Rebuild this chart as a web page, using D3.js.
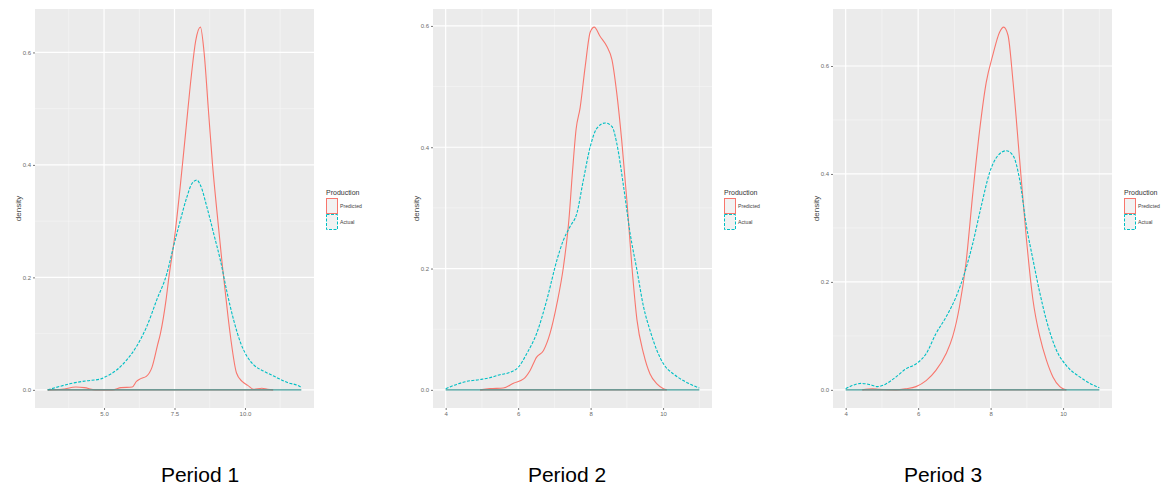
<!DOCTYPE html>
<html>
<head>
<meta charset="utf-8">
<script src="https://cdn.jsdelivr.net/npm/d3@7"></script>
<style>
  body { margin: 0; background: #ffffff; }
  svg { display: block; font-family: "Liberation Sans", Arial, sans-serif; }
</style>
</head>
<body>
<svg id="chart" width="1168" height="492"></svg>
<script>
// period titles and legend
var periods = ["Period 1", "Period 2", "Period 3"];
var seriesNames = ["Predicted", "Actual"];
var seriesColors = ["#F8766D", "#00BFC4"];

// x tick values per panel
var xTicks1 = [5.0, 7.5, 10.0];
var xTicks2 = [4, 6, 8, 10];
var xTicks3 = [4, 6, 8, 10];
var yTicks = [0.0, 0.2, 0.4, 0.6];

// Period 1 - predicted density
var p1PredX = [3.0, 3.5, 4.0, 4.3, 4.7, 5.3, 5.6, 6.0, 6.15, 6.3, 6.5, 6.7, 6.9, 7.0, 7.2, 7.3, 7.5, 7.7, 7.9, 8.1, 8.25, 8.42, 8.55, 8.7, 8.85, 9.0, 9.2, 9.4, 9.5, 9.7, 9.9, 10.1, 10.3, 10.6, 10.8, 11.0];
var p1PredY = [0.0, 0.001, 0.005, 0.004, 0.0, 0.0, 0.004, 0.005, 0.015, 0.02, 0.024, 0.04, 0.08, 0.10, 0.16, 0.20, 0.27, 0.36, 0.46, 0.56, 0.62, 0.645, 0.60, 0.50, 0.40, 0.32, 0.22, 0.13, 0.09, 0.03, 0.015, 0.008, 0.001, 0.003, 0.001, 0.0];
// Period 1 - actual density
var p1ActX = [3.0, 3.42, 3.89, 4.37, 4.85, 5.08, 5.44, 5.8, 6.15, 6.51, 6.87, 7.23, 7.46, 7.7, 7.94, 8.12, 8.29, 8.42, 8.65, 8.89, 9.13, 9.37, 9.6, 9.85, 10.08, 10.32, 10.68, 11.04, 11.51, 11.95, 12.0];
var p1ActY = [0.0, 0.006, 0.012, 0.016, 0.019, 0.024, 0.035, 0.053, 0.077, 0.112, 0.16, 0.207, 0.254, 0.30, 0.343, 0.367, 0.373, 0.364, 0.325, 0.278, 0.23, 0.172, 0.124, 0.083, 0.059, 0.044, 0.033, 0.024, 0.013, 0.006, 0.004];

// Period 2 - predicted density
var p2PredX = [4.95, 5.22, 5.59, 5.87, 6.15, 6.33, 6.51, 6.7, 6.88, 7.07, 7.25, 7.4, 7.5, 7.6, 7.71, 7.85, 7.99, 8.1, 8.26, 8.45, 8.59, 8.72, 8.86, 9.0, 9.14, 9.28, 9.46, 9.64, 9.83, 10.01, 10.1];
var p2PredY = [0.0, 0.002, 0.003, 0.011, 0.018, 0.032, 0.054, 0.065, 0.093, 0.142, 0.203, 0.28, 0.36, 0.43, 0.465, 0.533, 0.59, 0.598, 0.583, 0.566, 0.544, 0.49, 0.41, 0.313, 0.203, 0.115, 0.06, 0.026, 0.01, 0.002, 0.0];
// Period 2 - actual density
var p2ActX = [4.0, 4.3, 4.58, 4.95, 5.22, 5.5, 5.78, 6.0, 6.24, 6.51, 6.79, 7.07, 7.25, 7.43, 7.62, 7.8, 7.99, 8.17, 8.4, 8.59, 8.72, 8.91, 9.09, 9.28, 9.46, 9.64, 9.83, 10.01, 10.29, 10.57, 10.84, 11.0];
var p2ActY = [0.002, 0.009, 0.014, 0.017, 0.02, 0.025, 0.029, 0.037, 0.06, 0.093, 0.148, 0.214, 0.247, 0.269, 0.291, 0.346, 0.401, 0.431, 0.44, 0.434, 0.407, 0.335, 0.258, 0.197, 0.137, 0.098, 0.065, 0.043, 0.026, 0.015, 0.007, 0.003];

// Period 3 - predicted density
var p3PredX = [4.46, 4.74, 4.92, 5.39, 5.66, 5.94, 6.22, 6.49, 6.77, 6.95, 7.14, 7.32, 7.51, 7.69, 7.88, 8.06, 8.25, 8.36, 8.48, 8.62, 8.8, 8.99, 9.17, 9.36, 9.54, 9.72, 9.91, 10.0, 10.09];
var p3PredY = [0.0, 0.002, 0.001, 0.0, 0.002, 0.006, 0.017, 0.036, 0.067, 0.098, 0.154, 0.235, 0.365, 0.477, 0.57, 0.62, 0.663, 0.672, 0.657, 0.57, 0.427, 0.278, 0.166, 0.098, 0.055, 0.024, 0.006, 0.002, 0.0];
// Period 3 - actual density
var p3ActX = [4.0, 4.18, 4.42, 4.65, 4.88, 5.11, 5.39, 5.66, 5.94, 6.22, 6.49, 6.77, 7.05, 7.28, 7.51, 7.74, 7.97, 8.2, 8.43, 8.62, 8.8, 8.99, 9.17, 9.36, 9.54, 9.82, 10.09, 10.46, 10.74, 11.0];
var p3ActY = [0.002, 0.008, 0.012, 0.01, 0.006, 0.011, 0.024, 0.039, 0.048, 0.067, 0.104, 0.135, 0.173, 0.216, 0.272, 0.34, 0.402, 0.434, 0.443, 0.434, 0.39, 0.303, 0.241, 0.179, 0.129, 0.073, 0.045, 0.024, 0.012, 0.004];

var panels = [
    { title: periods[0], left: 35,  labelX: 200, xTicks: xTicks1, fmt: d3.format(".1f"),
      series: [[p1PredX, p1PredY], [p1ActX, p1ActY]] },
    { title: periods[1], left: 433, labelX: 567, xTicks: xTicks2, fmt: d3.format("d"),
      series: [[p2PredX, p2PredY], [p2ActX, p2ActY]] },
    { title: periods[2], left: 833, labelX: 943, xTicks: xTicks3, fmt: d3.format("d"),
      series: [[p3PredX, p3PredY], [p3ActX, p3ActY]] }
];

var svg = d3.select("#chart");
var panelW = 279, panelTop = 9, panelBottom = 408;

panels.forEach(function (p) {
    var allX = [], allY = [];
    p.series.forEach(function (s) { allX = allX.concat(s[0]); allY = allY.concat(s[1]); });
    var xMin = d3.min(allX), xMax = d3.max(allX);
    var xPad = (xMax - xMin) * 0.05;
    var yMax = d3.max(allY);
    var yPad = yMax * 0.05;

    var x = d3.scaleLinear().domain([xMin - xPad, xMax + xPad]).range([p.left, p.left + panelW]);
    var y = d3.scaleLinear().domain([-yPad, yMax + yPad]).range([panelBottom, panelTop]);

    var g = svg.append("g");

    // panel background
    g.append("rect")
        .attr("x", p.left).attr("y", panelTop)
        .attr("width", panelW).attr("height", panelBottom - panelTop)
        .attr("fill", "#EBEBEB");

    // minor grid
    var step = p.xTicks[1] - p.xTicks[0];
    var xMinor = [];
    for (var v = p.xTicks[0] - step / 2; v <= x.domain()[1]; v += step) {
        if (v >= x.domain()[0]) xMinor.push(v);
    }
    var yMinor = [0.1, 0.3, 0.5].filter(function (d) { return d <= y.domain()[1]; });
    g.selectAll(".xminor").data(xMinor).enter().append("line")
        .attr("x1", function (d) { return x(d); }).attr("x2", function (d) { return x(d); })
        .attr("y1", panelTop).attr("y2", panelBottom)
        .attr("stroke", "#F6F6F6").attr("stroke-width", 0.6);
    g.selectAll(".yminor").data(yMinor).enter().append("line")
        .attr("x1", p.left).attr("x2", p.left + panelW)
        .attr("y1", function (d) { return y(d); }).attr("y2", function (d) { return y(d); })
        .attr("stroke", "#F6F6F6").attr("stroke-width", 0.6);

    // major grid
    g.selectAll(".xmajor").data(p.xTicks).enter().append("line")
        .attr("x1", function (d) { return x(d); }).attr("x2", function (d) { return x(d); })
        .attr("y1", panelTop).attr("y2", panelBottom)
        .attr("stroke", "#ffffff").attr("stroke-width", 1.2);
    g.selectAll(".ymajor").data(yTicks).enter().append("line")
        .attr("x1", p.left).attr("x2", p.left + panelW)
        .attr("y1", function (d) { return y(d); }).attr("y2", function (d) { return y(d); })
        .attr("stroke", "#ffffff").attr("stroke-width", 1.2);

    // axes
    var xAxis = g.append("g").attr("transform", "translate(0," + panelBottom + ")")
        .call(d3.axisBottom(x).tickValues(p.xTicks).tickFormat(p.fmt).tickSize(2).tickPadding(2));
    var yAxis = g.append("g").attr("transform", "translate(" + p.left + ",0)")
        .call(d3.axisLeft(y).tickValues(yTicks).tickFormat(d3.format(".1f")).tickSize(2).tickPadding(2));
    [xAxis, yAxis].forEach(function (a) {
        a.select(".domain").remove();
        a.selectAll("line").attr("stroke", "#555555").attr("stroke-width", 0.8);
        a.selectAll("text").attr("fill", "#6b6b6b").style("font-size", "6px")
            .style("font-family", "'Liberation Sans', sans-serif");
    });

    // y title
    g.append("text")
        .attr("transform", "translate(" + (p.left - 14) + "," + ((panelTop + panelBottom) / 2) + ") rotate(-90)")
        .attr("text-anchor", "middle")
        .attr("fill", "#444444")
        .style("font-size", "8px")
        .text("density");

    // density outlines (curve plus baseline)
    var line = d3.line()
        .x(function (d) { return x(d[0]); })
        .y(function (d) { return y(d[1]); })
        .curve(d3.curveMonotoneX);

    p.series.forEach(function (s, i) {
        var pts = d3.zip(s[0], s[1]);
        var path = g.append("path")
            .attr("d", line(pts))
            .attr("fill", "none")
            .attr("stroke", seriesColors[i])
            .attr("stroke-width", 1.1);
        if (i === 1) path.attr("stroke-dasharray", "3,1.5");
        g.append("line")
            .attr("x1", x(d3.min(s[0]))).attr("x2", x(d3.max(s[0])))
            .attr("y1", y(0)).attr("y2", y(0))
            .attr("stroke", i === 0 ? seriesColors[i] : "#3f9a96")
            .attr("stroke-width", 1.1);
    });

    // legend
    var lx = p.left + panelW + 12;
    var legend = g.append("g").attr("transform", "translate(" + lx + ",0)");
    legend.append("text")
        .attr("x", 0).attr("y", 195)
        .attr("fill", "#333333")
        .style("font-size", "7px")
        .text("Production");
    seriesNames.forEach(function (name, i) {
        var ky = 198.5 + i * 16;
        legend.append("rect")
            .attr("x", 0.5).attr("y", ky)
            .attr("width", 11).attr("height", 15)
            .attr("fill", "#F2F2F2")
            .attr("stroke", seriesColors[i])
            .attr("stroke-width", 1)
            .attr("stroke-dasharray", i === 1 ? "3,1.5" : null);
        legend.append("text")
            .attr("x", 14).attr("y", ky + 9.5)
            .attr("fill", "#444444")
            .style("font-size", "5.2px")
            .text(name);
    });

    // period label under the panel
    svg.append("text")
        .attr("x", p.labelX).attr("y", 482)
        .attr("text-anchor", "middle")
        .attr("fill", "#000000")
        .style("font-size", "21px")
        .text(p.title);
});
</script>
</body>
</html>
